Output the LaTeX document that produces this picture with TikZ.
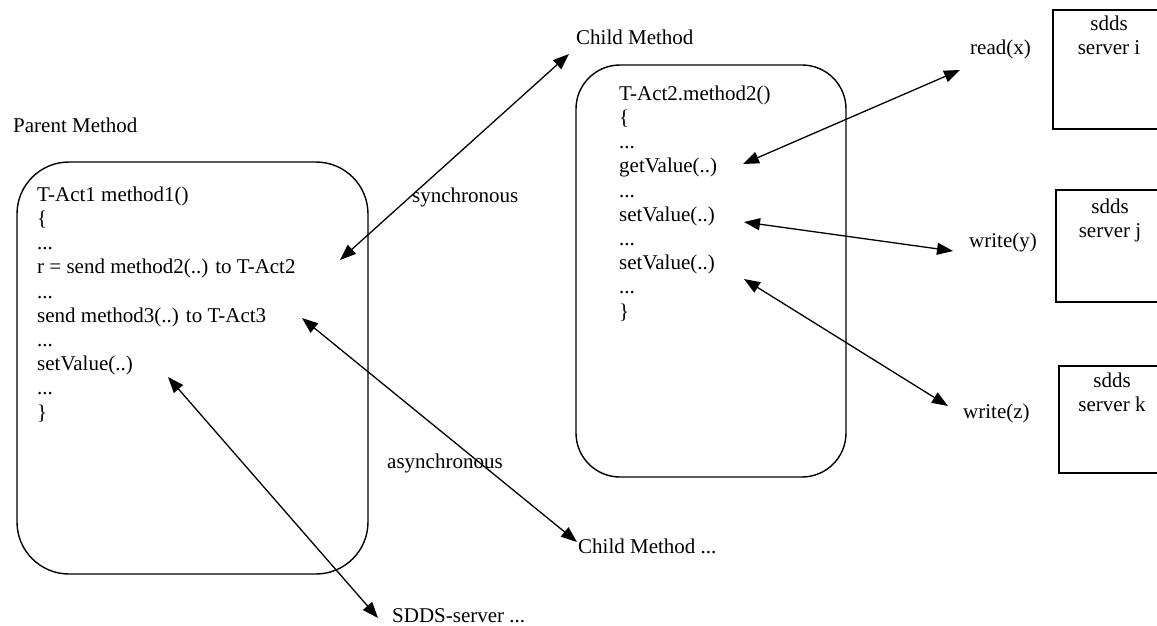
\documentclass[tikz,border=0pt]{standalone}
\usepackage{fontspec}
\setmainfont{Liberation Serif}
\usetikzlibrary{arrows.meta}
\begin{document}
\begin{tikzpicture}[x=1pt,y=-1pt,
  txt/.style={inner sep=0pt, font=\fontsize{21}{24.2}\selectfont, anchor=base west},
  code/.style={txt, align=left},
  stxt/.style={inner sep=0pt, font=\fontsize{21}{24}\selectfont, anchor=base, align=center},
  methodbox/.style={draw, line width=1.4pt, inner sep=0pt, rounded corners=#1},
  serverbox/.style={draw, line width=1.4pt, inner sep=0pt},
  dbl/.style={{Triangle[length=16pt,width=12pt]}-{Triangle[length=16pt,width=12pt]}, line width=1.3pt},
]
\useasboundingbox (0,0) rectangle (1157,626);
\clip (0,0) rectangle (1157,626);

% method boxes
\node[methodbox=52pt, minimum width=351pt, minimum height=412pt] (pbox) at (192.5,368) {};
\node[methodbox=44pt, minimum width=270pt, minimum height=412pt] (cbox) at (711,271) {};

% server boxes
\node[serverbox, minimum width=112pt, minimum height=119pt] (si) at (1109,69.5) {};
\node[serverbox, minimum width=109pt, minimum height=112pt] (sj) at (1110.5,246) {};
\node[serverbox, minimum width=106pt, minimum height=107pt] (sk) at (1112,419.5) {};
\node[stxt] (sit) at (1109,55) {sdds\\server i};
\node[stxt] (sjt) at (1110,237) {sdds\\server j};
\node[stxt] (skt) at (1112,411) {sdds\\server k};

% labels
\node[txt] (parent) at (13,132) {Parent Method};
\node[txt] (child) at (576,45) {Child Method};
\node[txt] (sync) at (412,202) {synchronous};
\node[txt] (async) at (387,468) {asynchronous};
\node[txt] (child2) at (578,553) {Child Method ...};
\node[txt] (sdds) at (392,622) {SDDS-server ...};
\node[txt] (rx) at (970,55) {read(x)};
\node[txt] (wy) at (969,247) {write(y)};
\node[txt] (wz) at (963,418) {write(z)};

% code (anchored at the baseline of the last line)
\node[code] (pcode) at (37,419) {T-Act1 method1()\\ \{\\ ...\\ r = send method2(..) to T-Act2\\ ...\\ send method3(..) to T-Act3\\ ...\\ setValue(..)\\ ...\\ \}};
\node[code] (ccode) at (619,318) {T-Act2.method2()\\ \{\\ ...\\ getValue(..)\\ ...\\ setValue(..)\\ ...\\ setValue(..)\\ ...\\ \}};

% arrow end points
\coordinate (s1) at (340,260);
\coordinate (s2) at (569,54);
\coordinate (a1) at (302,318);
\coordinate (a2) at (577,542);
\coordinate (d1) at (168,377);
\coordinate (d2) at (378,618);
\coordinate (r1) at (743,164);
\coordinate (r2) at (960,70);
\coordinate (y1) at (744,222);
\coordinate (y2) at (953,251);
\coordinate (z1) at (744,279);
\coordinate (z2) at (948,406);

\draw[dbl] (s1) -- (s2);
\draw[dbl] (a1) -- (a2);
\draw[dbl] (d1) -- (d2);
\draw[dbl] (r1) -- (r2);
\draw[dbl] (y1) -- (y2);
\draw[dbl] (z1) -- (z2);
\end{tikzpicture}
\end{document}
